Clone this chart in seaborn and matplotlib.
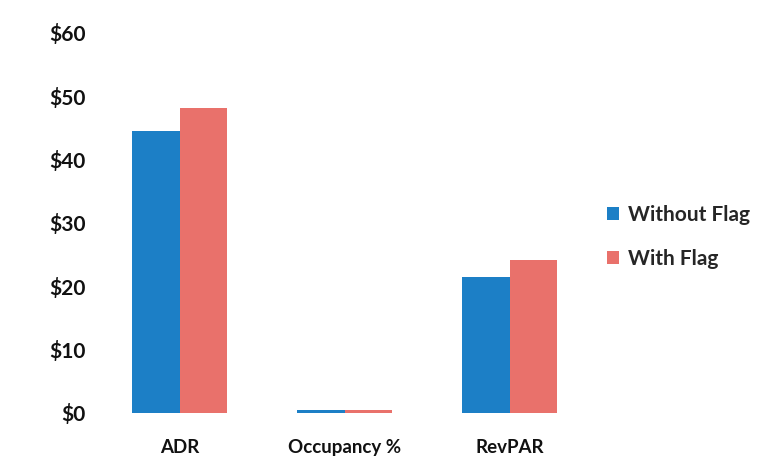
import matplotlib
matplotlib.use("Agg")
import matplotlib.pyplot as plt
import seaborn as sns
import pandas as pd

categories = ["ADR", "Occupancy %", "RevPAR"]
without_flag = [44.5, 0.4, 21.5]
with_flag = [48.2, 0.4, 24.2]
series_names = ["Without Flag", "With Flag"]
ytick_values = [0, 10, 20, 30, 40, 50, 60]
ytick_labels = ["$0", "$10", "$20", "$30", "$40", "$50", "$60"]

df = pd.DataFrame({
    "Metric": categories * 2,
    "Value": without_flag + with_flag,
    "Series": [series_names[0]] * 3 + [series_names[1]] * 3,
})

sns.set_style("white")
plt.rcParams["font.family"] = ["Lato", "DejaVu Sans"]

fig = plt.figure(figsize=(7.76, 4.66), dpi=100)
ax = fig.add_axes([97 / 776, 1 - 413 / 466, 495 / 776, 380 / 466])

palette = {"Without Flag": "#1c7fc6", "With Flag": "#e9716b"}
sns.barplot(data=df, x="Metric", y="Value", hue="Series", palette=palette,
            width=0.57, ax=ax, saturation=1, legend=True, linewidth=0)

ax.set_ylim(0, 60)
ax.set_xlim(-0.5, 2.5)
ax.set_yticks(ytick_values)
ax.set_yticklabels(ytick_labels, fontsize=15, fontweight="bold", color="#111111")
ax.tick_params(axis="x", labelsize=13.5, colors="#111111", pad=19, length=0)
for t in ax.get_xticklabels():
    t.set_fontweight("bold")
ax.tick_params(axis="y", pad=8, length=0)
ax.set_xlabel("")
ax.set_ylabel("")
for s in ax.spines.values():
    s.set_visible(False)

handles, labels = ax.get_legend_handles_labels()
ax.legend(handles, labels, loc="upper left", bbox_to_anchor=(588 / 776, 1 - 186 / 466),
          bbox_transform=fig.transFigure, frameon=False,
          prop={"weight": "bold", "size": 15}, handlelength=0.6, handleheight=0.6,
          handletextpad=0.4, labelspacing=1.15)

fig.savefig("out.png", dpi=100, facecolor="white")
